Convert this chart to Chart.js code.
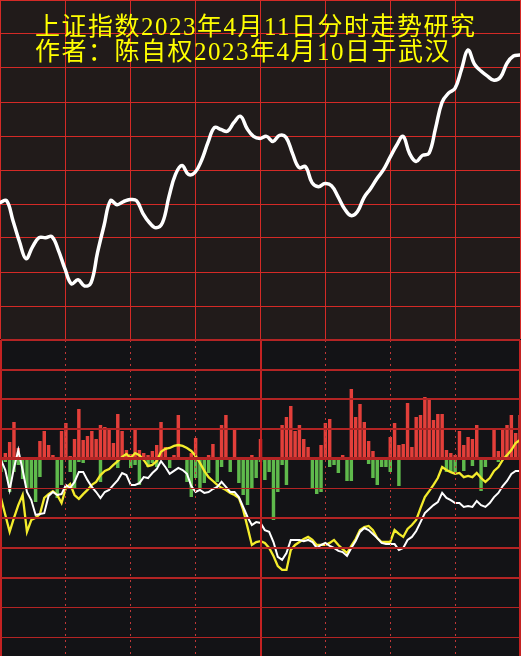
<!DOCTYPE html>
<html>
<head>
<meta charset="utf-8">
<title>上证指数2023年4月11日分时走势研究</title>
<script src="https://cdn.jsdelivr.net/npm/chart.js@4.4.0/dist/chart.umd.min.js"></script>
<style>
  html, body { margin: 0; padding: 0; background: #131316; }
  #wrap { position: relative; width: 521px; height: 656px; overflow: hidden; }
  #top { position: absolute; left: 0; top: 0; width: 521px; height: 340px; background: #211b1a; }
  #bottom { position: absolute; left: 0; top: 339px; width: 521px; height: 317px; background: #131316; }
  .title {
    position: absolute; left: 35px; z-index: 2;
    color: #ffff00;
    font-family: "Liberation Serif", "Noto Sans CJK SC", serif;
    font-size: 25px; line-height: 25px; letter-spacing: 1.5px;
    white-space: nowrap;
  }
</style>
</head>
<body>
<div id="wrap">
  <div id="top"><canvas id="topChart" width="521" height="340"></canvas></div>
  <div id="bottom"><canvas id="bottomChart" width="521" height="317"></canvas></div>
  <div class="title" style="top:14px">上证指数2023年4月11日分时走势研究</div>
  <div class="title" style="top:39px">作者：陈自权2023年4月10日于武汉</div>
</div>
<script>
// top panel: intraday index line (grid units, 0 = bottom line, 10 = top line)
const priceLine = [
    4.04, 4.10, 3.51, 2.89, 2.39, 2.74, 3.01, 3.01, 3.04, 2.63,
    2.09, 1.65, 1.77, 1.59, 1.68, 2.57, 3.36, 4.10, 3.98, 4.07,
    4.13, 4.10, 3.72, 3.45, 3.30, 3.45, 4.22, 4.87, 5.13, 4.87,
    4.93, 5.28, 5.81, 6.25, 6.19, 6.14, 6.40, 6.58, 6.22, 5.99,
    5.93, 5.99, 5.84, 6.02, 5.96, 5.49, 5.07, 5.10, 4.63, 4.51,
    4.60, 4.54, 4.22, 3.86, 3.66, 3.78, 4.19, 4.45, 4.75, 5.01,
    5.37, 5.72, 5.99, 5.49, 5.25, 5.43, 5.49, 6.22, 6.99, 7.26,
    7.40, 7.96, 8.53, 8.11, 7.91, 7.76, 7.64, 7.73, 8.14, 8.35,
    8.38
];

// bottom panel lines (grid units, 0 = bar base line)
const yellowLine = [
    -1.31, -1.88, -2.45, -1.98, -1.55, -1.21, -2.45, -2.05, -1.98, -1.85,
    -1.31, -1.18, -1.08, -1.21, -1.48, -0.97, -0.84, -1.21, -1.34, -1.18,
    -1.04, -0.87, -0.77, -0.54, -0.40, -0.34, -0.20, -0.07, 0.07, 0.17,
    0.03, 0.20, 0.13, -0.03, -0.24, -0.20, -0.07, 0.24, 0.34, 0.37,
    0.44, 0.47, 0.44, 0.37, 0.27, 0.10, -0.13, -0.40, -0.61, -0.74,
    -0.87, -0.97, -1.04, -1.14, -1.21, -1.31, -1.71, -2.29, -2.89, -2.79,
    -2.76, -2.82, -2.99, -3.26, -3.60, -3.73, -3.73, -3.06, -2.89, -2.79,
    -2.69, -2.62, -2.72, -2.89, -2.89, -2.89, -2.82, -2.72, -2.89, -3.03,
    -3.16, -2.92, -2.69, -2.39, -2.29, -2.25, -2.39, -2.66, -2.79, -2.79,
    -2.79, -2.39, -2.52, -2.62, -2.35, -2.22, -2.05, -1.65, -1.28, -1.08,
    -0.87, -0.64, -0.27, -0.37, -0.44, -0.50, -0.47, -0.61, -0.57, -0.61,
    -0.47, -0.64, -0.77, -0.64, -0.40, -0.27, -0.03, 0.13, 0.30, 0.54,
    0.64
];
const whiteLine = [
    -0.03, -0.37, -1.04, -0.30, 0.30, -0.37, -1.11, -1.38, -1.88, -1.85,
    -1.82, -1.24, -1.11, -1.21, -1.18, -0.87, -0.97, -0.77, -0.44, -0.44,
    -0.71, -0.94, -1.11, -1.31, -1.11, -1.04, -0.87, -0.71, -0.47, -0.54,
    -0.87, -0.87, -0.81, -0.61, -0.64, -0.47, -0.34, -0.07, -0.27, -0.50,
    -0.40, -0.30, -0.37, -0.50, -0.91, -1.11, -1.04, -1.14, -1.11, -1.01,
    -0.94, -0.77, -0.94, -1.11, -1.11, -1.28, -1.61, -1.95, -2.22, -2.12,
    -2.15, -2.39, -2.45, -2.79, -3.29, -3.39, -3.16, -2.72, -2.72, -2.72,
    -2.76, -2.72, -2.79, -2.99, -2.89, -2.82, -2.92, -2.99, -3.09, -3.13,
    -3.26, -2.99, -2.76, -2.45, -2.32, -2.39, -2.52, -2.66, -2.82, -2.86,
    -2.86, -2.86, -3.06, -2.99, -2.72, -2.62, -2.42, -2.12, -1.82, -1.68,
    -1.55, -1.45, -1.14, -1.31, -1.38, -1.48, -1.48, -1.61, -1.58, -1.61,
    -1.41, -1.55, -1.61, -1.48, -1.28, -1.14, -0.91, -0.74, -0.50, -0.40,
    -0.40
];

// bottom panel bars (bar units)
const upBars = [
    0, 6, 17, 37, 11, 0, 0, 0, 0, 18, 28, 14, 4, 0, 28, 36, 3, 20, 50, 19,
    23, 28, 20, 34, 32, 30, 16, 45, 28, 9, 5, 29, 9, 6, 4, 8, 14, 37, 12, 0,
    4, 44, 0, 0, 6, 21, 0, 0, 4, 15, 0, 34, 44, 0, 29, 0, 0, 0, 4, 0,
    20, 0, 0, 0, 0, 34, 42, 53, 28, 34, 20, 12, 0, 0, 14, 36, 40, 0, 0, 4,
    0, 70, 42, 55, 37, 18, 8, 0, 0, 0, 22, 36, 14, 15, 56, 12, 42, 44, 62, 59,
    39, 45, 45, 9, 6, 4, 28, 14, 22, 20, 34, 0, 0, 0, 29, 8, 29, 34, 44, 26,
    44
];
const downBars = [
    -13, -3, -33, -13, -6, -20, -29, -29, -43, -18, 0, 0, 0, -39, -26, 0, -13, -29, -3, -4,
    0, 0, 0, -23, 0, 0, 0, -9, 0, 0, -9, -6, -26, 0, -8, -4, -8, 0, 0, -9,
    0, 0, 0, -23, -38, -19, -29, -24, -14, 0, -23, -8, 0, -13, 0, -24, -36, -46, -30, -19,
    -3, -21, -13, -61, -33, -6, -26, 0, 0, 0, 0, 0, -29, -35, -33, 0, -8, -6, -14, 0,
    -22, -22, 0, 0, 0, -5, -19, -26, -8, -8, -13, 0, -27, 0, 0, 0, 0, 0, 0, 0,
    0, 0, 0, -13, -13, -13, 0, -12, 0, -7, 0, -32, -8, 0, 0, -3, 0, 0, 0, 0,
    0
];

// axis ranges of the lower panel
const lineMin = -6.622, lineMax = 4;
const barMin = -197, barMax = 119;

const topGrid = "#d42a26";
const lowGrid = "#b32424";

function drawTopChart() {
    new Chart(document.getElementById("topChart"), {
        type: "line",
        data: {
            datasets: [{
                data: priceLine.map((v, i) => ({ x: i, y: v })),
                borderColor: "#ffffff",
                borderWidth: 3.5,
                tension: 0.4,
                pointRadius: 0,
                borderCapStyle: "round",
                borderJoinStyle: "round"
            }]
        },
        options: {
            responsive: false,
            animation: false,
            devicePixelRatio: 1,
            layout: { padding: { left: 0, right: 1, top: 0, bottom: 0 }, autoPadding: false },
            plugins: { legend: { display: false }, tooltip: { enabled: false } },
            scales: {
                x: {
                    type: "linear",
                    min: 0,
                    max: priceLine.length - 1,
                    ticks: { display: false, stepSize: 10 },
                    grid: { color: topGrid, lineWidth: 1, drawTicks: false },
                    border: { display: false }
                },
                y: {
                    min: 0,
                    max: 10,
                    ticks: { display: false, stepSize: 1 },
                    grid: { color: topGrid, lineWidth: 1, drawTicks: false },
                    border: { display: false }
                }
            }
        }
    });
}

function drawBottomChart() {
    const slots = yellowLine.map((v, i) => i);

    new Chart(document.getElementById("bottomChart"), {
        data: {
            labels: slots,
            datasets: [
                {
                    type: "line", data: whiteLine, yAxisID: "y", xAxisID: "x",
                    borderColor: "#ffffff", borderWidth: 2, pointRadius: 0, tension: 0, order: 0
                },
                {
                    type: "line", data: yellowLine, yAxisID: "y", xAxisID: "x",
                    borderColor: "#f4ec2c", borderWidth: 2.3, pointRadius: 0, tension: 0, order: 1
                },
                {
                    type: "bar", data: upBars.map(v => v || null), yAxisID: "yBar", xAxisID: "x",
                    backgroundColor: "#e33f3a", grouped: false, barPercentage: 0.8, categoryPercentage: 1, order: 2
                },
                {
                    type: "bar", data: downBars.map(v => v || null), yAxisID: "yBar", xAxisID: "x",
                    backgroundColor: "#5fba4c", grouped: false, barPercentage: 0.8, categoryPercentage: 1, order: 2
                }
            ]
        },
        options: {
            responsive: false,
            animation: false,
            devicePixelRatio: 1,
            layout: { padding: { left: 1, right: 1, top: 1, bottom: 0 }, autoPadding: false },
            plugins: { legend: { display: false }, tooltip: { enabled: false } },
            scales: {
                x: { type: "category", offset: false, display: false },
                xDot: {
                    type: "linear", position: "bottom", min: 0, max: 8,
                    ticks: { display: false, stepSize: 1 },
                    grid: {
                        drawTicks: false, lineWidth: 1, z: 1,
                        color: (ctx) => {
                            const v = ctx.tick ? ctx.tick.value : 0;
                            return (v === 0 || v === 4 || v === 8) ? "rgba(0,0,0,0)" : "#bf3838";
                        }
                    },
                    border: { display: false, dash: [2, 4] }
                },
                xSolid: {
                    type: "linear", position: "top", min: 0, max: 8,
                    ticks: { display: false, stepSize: 4 },
                    grid: { drawTicks: false, lineWidth: 2, z: 1, color: "#c42222" },
                    border: { display: false }
                },
                y: {
                    min: lineMin, max: lineMax,
                    ticks: { display: false, stepSize: 1 },
                    grid: {
                        drawTicks: false, z: 1, color: lowGrid,
                        lineWidth: (ctx) => {
                            const v = ctx.tick ? ctx.tick.value : 0;
                            if (v === lineMin) return 0;
                            if (v === 0) return 3;
                            if (v === -1 || v === -5 || v === -6) return 1;
                            return 2;
                        }
                    },
                    border: { display: false }
                },
                yBar: { min: barMin, max: barMax, display: false }
            }
        }
    });
}

drawTopChart();
drawBottomChart();
</script>
</body>
</html>
